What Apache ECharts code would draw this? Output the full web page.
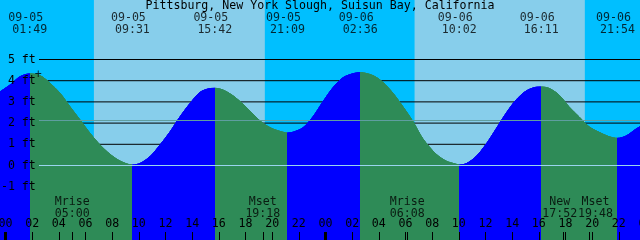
<!DOCTYPE html>
<html><head><meta charset="utf-8">
<script src="https://cdn.jsdelivr.net/npm/echarts@6/dist/echarts.min.js"></script>
<style>html,body{margin:0;padding:0;background:#00BFFF}
.layer{position:absolute;left:0;top:0;width:640px;height:240px}</style>
</head><body><div id="bg" class="layer"></div><div id="fg" class="layer"></div>
<script>
const chartTitle = 'Pittsburg, New York Slough, Suisun Bay, California';
// Tide extremes, hours from 09-05 00:00
const extremeTimes   = [1.817, 9.517, 15.7, 21.15, 26.6, 34.033, 40.183, 45.9];
const extremeHeights = [4.32, 0.02, 3.64, 1.53, 4.38, 0.02, 3.70, 1.28];
const extremeTypes   = ['H', 'L', 'H', 'L', 'H', 'L', 'H', 'L'];
const extremeDates   = ['09-05', '09-05', '09-05', '09-05', '09-06', '09-06', '09-06', '09-06'];
const extremeClock   = ['01:49', '09:31', '15:42', '21:09', '02:36', '10:02', '16:11', '21:54'];
// Tide curve readings between extremes (hours, ft)
const curveTimes = [-0.5, 0.34, 1.09, 2.59, 3.34, 4.09, 4.84, 5.59, 6.34, 7.09, 7.84, 8.59,
  10.09, 10.84, 11.59, 12.34, 13.09, 13.84, 14.59, 15.19,
  16.31, 17.06, 17.81, 18.56, 19.31, 20.06, 20.81,
  21.56, 22.31, 23.06, 23.81, 24.56, 25.31, 26.06,
  27.56, 28.31, 29.06, 29.81, 30.56, 31.31, 32.29, 33.04, 33.79,
  34.54, 35.29, 36.04, 36.79, 37.54, 38.29, 39.04, 39.79,
  40.76, 41.51, 42.26, 43.01, 43.76, 44.51, 45.26,
  46.54, 47.29, 47.59, 48.0];
const curveHeights = [3.44, 3.80, 4.19, 4.24, 3.88, 3.41, 2.77, 2.15, 1.52, 0.97, 0.53, 0.21,
  0.10, 0.42, 0.97, 1.59, 2.30, 2.93, 3.45, 3.61,
  3.56, 3.29, 2.89, 2.42, 1.99, 1.72, 1.57,
  1.57, 1.78, 2.30, 3.01, 3.67, 4.14, 4.33,
  4.24, 3.92, 3.41, 2.77, 2.07, 1.25, 0.54, 0.21, 0.06,
  0.08, 0.42, 1.00, 1.72, 2.46, 3.09, 3.51, 3.69,
  3.64, 3.33, 2.77, 2.30, 1.83, 1.57, 1.36,
  1.39, 1.72, 1.83, 2.00];
// Daylight bands [sunrise, sunset]
const daylight = [[6.63, 19.45], [30.68, 43.45]];
// Moon events
const moonTimes = [5.0, 19.3, 30.133, 41.867, 43.8];
const moonNames = ['Mrise', 'Mset', 'Mrise', 'New', 'Mset'];
const moonClock = ['05:00', '19:18', '06:08', '17:52', '19:48'];
// Axis ticks
const hourTicks = [0,2,4,6,8,10,12,14,16,18,20,22,24,26,28,30,32,34,36,38,40,42,44,46,48];
const midnightTicks = [0, 24, 48];
const footLines = [1, 2, 3, 4, 5];
const footLabels = [-1, 0, 1, 2, 3, 4, 5];
const mslLevel = 2.12;
const datumLevel = 0;
const markTime = 2.46, markHeight = 4.28;

// ---- layout ----
const FONT = 'DejaVu Sans Mono';
const FS = 11.6;
const X_MIN = -0.5, X_MAX = 48;
const Y_MIN = -3.514, Y_MAX = 7.807;
const GL = -1.167, GR = -5.5;
const GW = 640 - GL - GR;
const C = { night: '#00BFFF', day: '#87CEEB', rise: '#0000FF', fall: '#2E8B57',
            msl: '#5F9EA0', datum: '#9AD4EE', text: '#000' };
const rowToValue = r => Y_MAX - r * (Y_MAX - Y_MIN) / 240;
const colToTime = c => X_MIN + (c - GL) * (X_MAX - X_MIN) / GW;
const TICK_H = 8 * (Y_MAX - Y_MIN) / 240;
const LINE_START = colToTime(39);

const grid = { left: GL, right: GR, top: 0, bottom: 0, containLabel: false, outerBoundsMode: 'none' };
const plainX = { type: 'value', min: X_MIN, max: X_MAX, show: false };
const plainY = { type: 'value', min: Y_MIN, max: Y_MAX, show: false };

// ---------- background layer: day/night and black foot lines ----------
const bgSeries = [{
  type: 'line', data: [[X_MIN, Y_MIN - 5]], showSymbol: false, silent: true,
  lineStyle: { width: 0 },
  markArea: { silent: true, itemStyle: { color: C.day, opacity: 1 },
    data: daylight.map(d => [{ xAxis: d[0] }, { xAxis: d[1] }]) }
}];
footLines.forEach(v => bgSeries.push({
  type: 'line', data: [[LINE_START, v], [X_MAX, v]], showSymbol: false, silent: true,
  lineStyle: { color: '#000', width: 1 }
}));
const bg = echarts.init(document.getElementById('bg'));
bg.setOption({ animation: false, backgroundColor: C.night, grid, xAxis: plainX, yAxis: plainY, series: bgSeries });

// ---------- foreground layer: tide, datum lines, text ----------
const tide = curveTimes.map((t, i) => [t, curveHeights[i]])
  .concat(extremeTimes.map((t, i) => [t, extremeHeights[i]]))
  .sort((a, b) => a[0] - b[0]);

const pieces = [];
let prev = null;
extremeTimes.forEach((t, i) => {
  const p = { lt: t, color: extremeTypes[i] === 'H' ? C.rise : C.fall };
  if (prev !== null) p.gte = prev;
  pieces.push(p);
  prev = t;
});
pieces.push({ gte: prev, color: extremeTypes[extremeTypes.length - 1] === 'H' ? C.fall : C.rise });

const labelItems = [];
extremeTimes.forEach((t, i) => {
  labelItems.push({ value: [t, rowToValue(17.5)], label: { formatter: extremeDates[i], offset: [-4, 0] } });
  labelItems.push({ value: [t, rowToValue(29.5)], label: { formatter: extremeClock[i] } });
});
const moonOffsets = [0, 0, 0, -4, 6];
moonTimes.forEach((t, i) => {
  labelItems.push({ value: [t, rowToValue(207.5)],
    label: { formatter: moonNames[i] + '\n' + moonClock[i], offset: [moonOffsets[i], 0] } });
});
labelItems.push({ value: [markTime, markHeight], label: { formatter: '+' } });

// tide fill (layered so it fully covers the foot lines behind it)
const tideLayer = extra => Object.assign({
  type: 'line', data: tide, showSymbol: false, smooth: 0.3, z: 3, silent: true,
  lineStyle: { width: 1 },
  areaStyle: { opacity: 1, origin: 'start' }
}, extra || {});

const fg = echarts.init(document.getElementById('fg'));
fg.setOption({
  animation: false,
  backgroundColor: 'transparent',
  title: { text: chartTitle, left: 'center', top: 0, padding: 0,
    textStyle: { fontFamily: FONT, fontSize: FS, fontWeight: 'normal', color: C.text, lineHeight: 12 } },
  grid,
  xAxis: {
    type: 'value', min: X_MIN, max: X_MAX, z: 8,
    axisLine: { show: false, onZero: false }, splitLine: { show: false },
    axisTick: { show: true, inside: true, length: 8, customValues: hourTicks.concat(moonTimes),
      lineStyle: { color: C.text, width: 1 } },
    axisLabel: { show: true, inside: true, margin: 16, verticalAlign: 'middle',
      customValues: hourTicks, color: C.text, fontFamily: FONT, fontSize: FS,
      showMaxLabel: true, showMinLabel: true,
      formatter: v => String(Math.round(v) % 24).padStart(2, '0') }
  },
  yAxis: {
    type: 'value', min: Y_MIN, max: Y_MAX, z: 8,
    axisLine: { show: false, onZero: false }, splitLine: { show: false }, axisTick: { show: false },
    axisLabel: { show: true, inside: true, margin: 37, align: 'right', verticalAlign: 'middle',
      customValues: footLabels, color: C.text, fontFamily: FONT, fontSize: FS,
      formatter: v => Math.round(v) + ' ft' }
  },
  visualMap: { type: 'piecewise', show: false, dimension: 0, seriesIndex: [0, 1, 2], pieces: pieces },
  series: [
    tideLayer(),
    tideLayer(),
    tideLayer({
      markLine: { silent: true, symbol: 'none', label: { show: false },
        data: [
          [{ coord: [LINE_START, mslLevel], lineStyle: { color: C.msl, width: 1, type: 'solid' } },
           { coord: [X_MAX, mslLevel] }],
          [{ coord: [LINE_START, datumLevel], lineStyle: { color: C.datum, width: 1, type: 'solid' } },
           { coord: [X_MAX, datumLevel] }]
        ] }
    }),
    {
      type: 'scatter', data: labelItems, symbolSize: 1, z: 9, silent: true,
      itemStyle: { color: 'transparent' },
      label: { show: true, position: 'inside', color: C.text, fontFamily: FONT, fontSize: FS, lineHeight: 12 },
      markLine: { silent: true, symbol: 'none', label: { show: false },
        lineStyle: { color: '#000', width: 3, type: 'solid' },
        data: midnightTicks.map(t => [{ coord: [t, Y_MIN] }, { coord: [t, Y_MIN + TICK_H] }]) }
    }
  ]
});
</script></body></html>
